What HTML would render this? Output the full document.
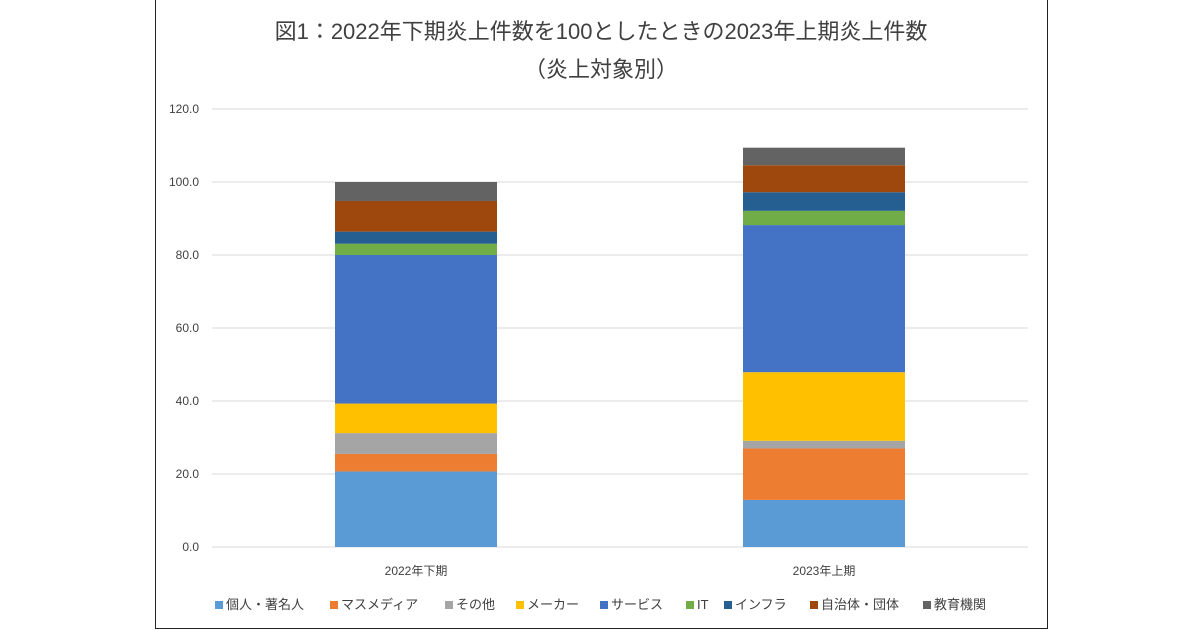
<!DOCTYPE html>
<html><head><meta charset="utf-8"><style>
body{margin:0;width:1200px;height:630px;background:#fff;overflow:hidden;font-family:"Liberation Sans","Noto Sans CJK JP",sans-serif}
#frame{position:absolute;left:155px;top:0;width:891px;height:628px;border:1px solid #222;border-top:none}
</style></head><body>
<div id="frame"></div>
<svg id="chart" width="1200" height="630" style="position:absolute;left:0;top:0">
<text x="601" y="39" text-anchor="middle" font-size="22" fill="#404040" font-family="Liberation Sans, Noto Sans CJK JP, sans-serif">図1：2022年下期炎上件数を100としたときの2023年上期炎上件数</text>
<text x="601" y="77" text-anchor="middle" font-size="22" fill="#404040" font-family="Liberation Sans, Noto Sans CJK JP, sans-serif">（炎上対象別）</text>
</svg>
<script>
const categories=["2022年下期","2023年上期"];
const seriesNames=["個人・著名人","マスメディア","その他","メーカー","サービス","IT","インフラ","自治体・団体","教育機関"];
const colors=["#5b9bd5","#ed7d31","#a5a5a5","#ffc000","#4472c4","#70ad47","#255e91","#9e480e","#636363"];
const s2022=[20.7,4.8,5.7,8.1,40.7,3.1,3.3,8.4,5.2];
const s2023=[12.9,14.1,2.1,18.8,40.3,3.9,5.1,7.4,4.8];
const yTicks=[0,20,40,60,80,100,120];
const NS="http://www.w3.org/2000/svg";
const svg=document.getElementById('chart');
const y0=547,pxPer=438/120,left=212,right=1028;
const y=v=>y0-v*pxPer;
const xCenter=i=>left+(right-left)*(i+0.5)/categories.length;
function mk(t,a){const e=document.createElementNS(NS,t);for(const k in a)e.setAttribute(k,a[k]);svg.appendChild(e);return e;}
yTicks.forEach(t=>{
 const l=mk('line',{x1:left,x2:right,y1:y(t),y2:y(t),stroke:'#d9d9d9','stroke-width':1});
 
 
 const tx=mk('text',{x:199,y:y(t)+4,'text-anchor':'end','font-size':12,fill:'#404040'});
 tx.textContent=t.toFixed(1);
 
 
});
[s2022,s2023].forEach((ser,i)=>{
 let acc=0;const cx=xCenter(i),w=162;
 ser.forEach((v,j)=>{
  const r=mk('rect',{x:cx-w/2,y:y(acc+v),width:w,height:v*pxPer,fill:colors[j]});
  
  
  acc+=v;
 });
 const tx=mk('text',{x:cx,y:575,'text-anchor':'middle','font-size':12,fill:'#404040'});
 tx.textContent=categories[i];
 
 
});
const legX=[215,330,445,516,600,686,724,810,923];
seriesNames.forEach((n,j)=>{
 const r=mk('rect',{x:legX[j],y:601,width:8,height:8,fill:colors[j]});
 
 
 const t=mk('text',{x:legX[j]+11,y:609,'font-size':13,fill:'#404040'});
 t.textContent=n;
 
 
});
</script>
</body></html>
